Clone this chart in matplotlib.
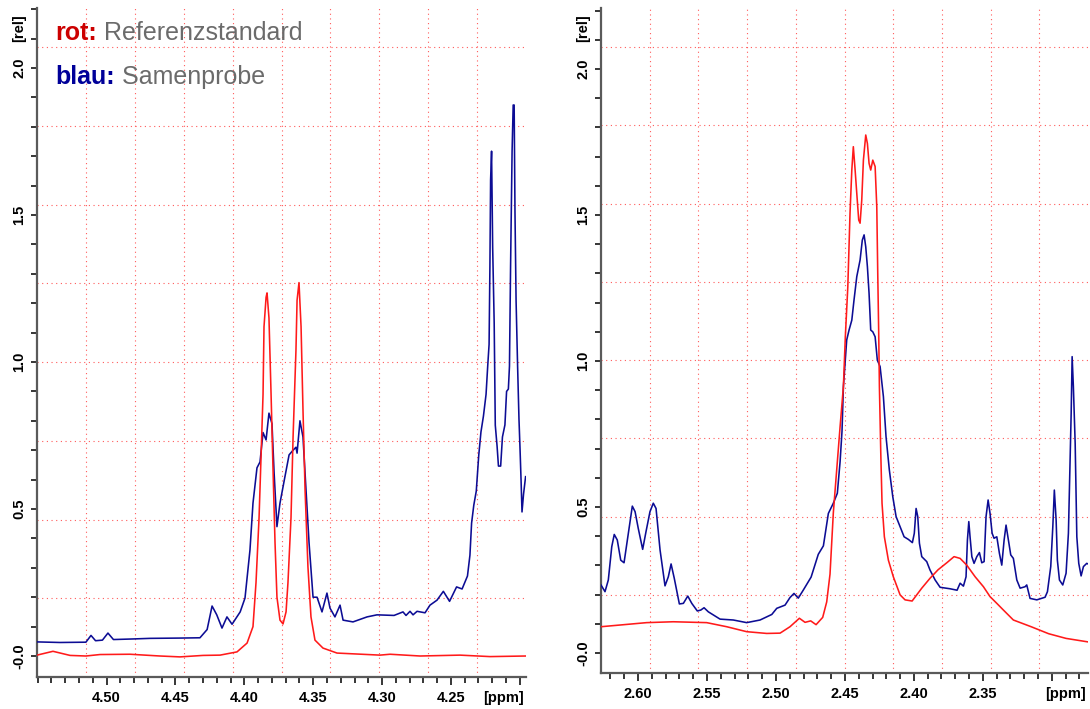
import matplotlib
matplotlib.use("Agg")
import matplotlib.pyplot as plt
from matplotlib.ticker import FixedLocator, FixedFormatter, MultipleLocator

# ---------------- data ----------------
# left panel (4.55 - 4.20 ppm)
left_sample_ppm = [4.5505, 4.5338, 4.5150, 4.5113, 4.5080, 4.5030, 4.4990, 4.4950, 4.4808, 4.4685,
                   4.4467, 4.4322, 4.4270, 4.4234, 4.4200, 4.4162, 4.4126, 4.4089, 4.4030, 4.3995,
                   4.3959, 4.3937, 4.3908, 4.3886, 4.3864, 4.3842, 4.3821, 4.3799, 4.3784, 4.3763,
                   4.3741, 4.3705, 4.3675, 4.3646, 4.3625, 4.3617, 4.3596, 4.3574, 4.3552, 4.3530,
                   4.3501, 4.3472, 4.3436, 4.3400, 4.3378, 4.3342, 4.3305, 4.3283, 4.3211, 4.3109,
                   4.3037, 4.2913, 4.2848, 4.2826, 4.2797, 4.2775, 4.2746, 4.2688, 4.2652, 4.2601,
                   4.2555, 4.2510, 4.2459, 4.2419, 4.2380, 4.2362, 4.2350, 4.2334, 4.2316, 4.2298,
                   4.2282, 4.2264, 4.2245, 4.2233, 4.2223, 4.2217, 4.2212, 4.2205, 4.2197, 4.2186,
                   4.2178, 4.2165, 4.2155, 4.2139, 4.2126, 4.2108, 4.2096, 4.2083, 4.2075, 4.2067,
                   4.2056, 4.2048, 4.2041, 4.2035, 4.2027, 4.2016, 4.2006, 4.1998, 4.1991, 4.1984,
                   4.1973, 4.1958]
left_sample_int = [0.048, 0.046, 0.047, 0.070, 0.052, 0.054, 0.078, 0.056, 0.058, 0.060,
                   0.061, 0.062, 0.090, 0.170, 0.140, 0.095, 0.133, 0.108, 0.150, 0.197,
                   0.360, 0.520, 0.640, 0.660, 0.760, 0.735, 0.826, 0.790, 0.626, 0.440,
                   0.520, 0.610, 0.684, 0.700, 0.710, 0.690, 0.800, 0.745, 0.565, 0.385,
                   0.200, 0.200, 0.150, 0.214, 0.163, 0.133, 0.173, 0.122, 0.116, 0.133,
                   0.140, 0.138, 0.150, 0.138, 0.152, 0.140, 0.152, 0.147, 0.173, 0.190,
                   0.220, 0.186, 0.235, 0.228, 0.272, 0.343, 0.452, 0.513, 0.561, 0.683,
                   0.762, 0.816, 0.890, 0.986, 1.060, 1.325, 1.619, 1.717, 1.390, 1.133,
                   0.785, 0.714, 0.646, 0.646, 0.745, 0.786, 0.900, 0.908, 0.986, 1.325,
                   1.717, 1.874, 1.874, 1.510, 1.208, 0.986, 0.806, 0.700, 0.600, 0.490,
                   0.550, 0.610]

left_ref_ppm = [4.5505, 4.5389, 4.5265, 4.5150, 4.5048, 4.4830, 4.4612, 4.4467, 4.4300, 4.4176,
                4.4053, 4.3980, 4.3937, 4.3915, 4.3893, 4.3879, 4.3864, 4.3857, 4.3842, 4.3835,
                4.3821, 4.3806, 4.3792, 4.3777, 4.3763, 4.3741, 4.3719, 4.3697, 4.3683, 4.3661,
                4.3646, 4.3625, 4.3617, 4.3603, 4.3588, 4.3574, 4.3559, 4.3538, 4.3516, 4.3487,
                4.3429, 4.3327, 4.3015, 4.2942, 4.2724, 4.2434, 4.2216, 4.1955]
left_ref_int = [0.003, 0.016, 0.002, 0.000, 0.005, 0.006, 0.000, -0.003, 0.002, 0.003,
                0.014, 0.044, 0.100, 0.250, 0.470, 0.670, 0.890, 1.120, 1.220, 1.235,
                1.150, 0.895, 0.643, 0.385, 0.200, 0.122, 0.109, 0.150, 0.250, 0.470,
                0.745, 1.040, 1.210, 1.270, 1.120, 0.837, 0.565, 0.303, 0.133, 0.054,
                0.027, 0.010, 0.003, 0.006, 0.000, 0.003, -0.002, 0.000]

# right panel (2.63 - 2.27 ppm)
right_sample_ppm = [2.6268, 2.6239, 2.6215, 2.6190, 2.6172, 2.6150, 2.6125, 2.6101, 2.6070, 2.6041,
                    2.6021, 2.5998, 2.5966, 2.5942, 2.5913, 2.5889, 2.5869, 2.5840, 2.5804, 2.5780,
                    2.5760, 2.5737, 2.5700, 2.5671, 2.5639, 2.5610, 2.5570, 2.5545, 2.5521, 2.5490,
                    2.5405, 2.5309, 2.5212, 2.5115, 2.5030, 2.4994, 2.4934, 2.4898, 2.4869, 2.4838,
                    2.4801, 2.4745, 2.4693, 2.4656, 2.4620, 2.4584, 2.4555, 2.4535, 2.4521, 2.4511,
                    2.4497, 2.4487, 2.4470, 2.4450, 2.4434, 2.4414, 2.4390, 2.4374, 2.4361, 2.4349,
                    2.4337, 2.4325, 2.4313, 2.4298, 2.4281, 2.4265, 2.4245, 2.4221, 2.4202, 2.4178,
                    2.4153, 2.4129, 2.4100, 2.4071, 2.4040, 2.4011, 2.3997, 2.3984, 2.3972, 2.3960,
                    2.3943, 2.3907, 2.3883, 2.3846, 2.3810, 2.3738, 2.3687, 2.3665, 2.3641, 2.3622,
                    2.3612, 2.3602, 2.3593, 2.3580, 2.3564, 2.3544, 2.3525, 2.3508, 2.3491, 2.3477,
                    2.3462, 2.3448, 2.3433, 2.3419, 2.3399, 2.3380, 2.3363, 2.3346, 2.3332, 2.3315,
                    2.3298, 2.3279, 2.3254, 2.3230, 2.3194, 2.3182, 2.3158, 2.3109, 2.3049, 2.3032,
                    2.3008, 2.2993, 2.2982, 2.2969, 2.2960, 2.2945, 2.2921, 2.2897, 2.2880, 2.2868,
                    2.2860, 2.2853, 2.2844, 2.2831, 2.2819, 2.2805, 2.2788, 2.2771, 2.2747, 2.2738]
right_sample_int = [0.233, 0.210, 0.250, 0.364, 0.406, 0.387, 0.318, 0.309, 0.410, 0.503,
                    0.484, 0.427, 0.355, 0.415, 0.484, 0.513, 0.495, 0.353, 0.230, 0.261,
                    0.305, 0.256, 0.168, 0.170, 0.195, 0.170, 0.144, 0.147, 0.155, 0.141,
                    0.116, 0.113, 0.104, 0.113, 0.132, 0.153, 0.164, 0.190, 0.204, 0.188,
                    0.216, 0.260, 0.338, 0.367, 0.478, 0.513, 0.547, 0.655, 0.760, 0.912,
                    1.003, 1.072, 1.106, 1.140, 1.209, 1.289, 1.346, 1.414, 1.432, 1.391,
                    1.323, 1.232, 1.106, 1.100, 1.083, 1.003, 0.981, 0.878, 0.741, 0.627,
                    0.535, 0.467, 0.432, 0.398, 0.389, 0.378, 0.410, 0.495, 0.467, 0.376,
                    0.330, 0.313, 0.284, 0.250, 0.225, 0.220, 0.215, 0.239, 0.229, 0.261,
                    0.387, 0.450, 0.398, 0.330, 0.307, 0.330, 0.344, 0.309, 0.313, 0.467,
                    0.524, 0.478, 0.410, 0.393, 0.398, 0.341, 0.301, 0.387, 0.438, 0.387,
                    0.336, 0.324, 0.250, 0.222, 0.227, 0.233, 0.187, 0.182, 0.191, 0.210,
                    0.296, 0.433, 0.558, 0.455, 0.318, 0.250, 0.233, 0.273, 0.410, 0.661,
                    0.821, 1.015, 0.912, 0.718, 0.398, 0.307, 0.264, 0.296, 0.307, 0.305]

right_ref_ppm = [2.6268, 2.5937, 2.5744, 2.5502, 2.5357, 2.5212, 2.5067, 2.4970, 2.4898, 2.4830,
                 2.4789, 2.4748, 2.4709, 2.4661, 2.4632, 2.4608, 2.4584, 2.4559, 2.4535, 2.4511,
                 2.4497, 2.4479, 2.4463, 2.4450, 2.4439, 2.4426, 2.4414, 2.4400, 2.4390, 2.4378,
                 2.4366, 2.4349, 2.4337, 2.4325, 2.4313, 2.4298, 2.4281, 2.4269, 2.4262, 2.4255,
                 2.4250, 2.4240, 2.4231, 2.4214, 2.4185, 2.4149, 2.4100, 2.4064, 2.4013, 2.3943,
                 2.3883, 2.3825, 2.3759, 2.3709, 2.3665, 2.3617, 2.3556, 2.3496, 2.3448, 2.3399,
                 2.3351, 2.3279, 2.3150, 2.3023, 2.2897, 2.2738]
right_ref_int = [0.090, 0.104, 0.107, 0.104, 0.090, 0.073, 0.067, 0.068, 0.090, 0.119,
                 0.105, 0.110, 0.097, 0.122, 0.175, 0.270, 0.480, 0.630, 0.775, 0.912,
                 1.083, 1.254, 1.506, 1.654, 1.734, 1.654, 1.574, 1.483, 1.472, 1.551,
                 1.688, 1.774, 1.745, 1.677, 1.654, 1.688, 1.666, 1.528, 1.300, 1.095,
                 0.912, 0.684, 0.513, 0.398, 0.318, 0.261, 0.199, 0.182, 0.178, 0.222,
                 0.256, 0.285, 0.310, 0.330, 0.324, 0.301, 0.261, 0.227, 0.193, 0.170,
                 0.147, 0.113, 0.090, 0.066, 0.050, 0.038]

left_xticks = [4.50, 4.45, 4.40, 4.35, 4.30, 4.25, 4.20]
left_xticklabels = ["4.50", "4.45", "4.40", "4.35", "4.30", "4.25", ""]
right_xticks = [2.60, 2.55, 2.50, 2.45, 2.40, 2.35, 2.30]
right_xticklabels = ["2.60", "2.55", "2.50", "2.45", "2.40", "2.35", ""]
yticks = [0.0, 0.5, 1.0, 1.5, 2.0]
yticklabels = ["-0.0", "0.5", "1.0", "1.5", "2.0"]

legend_ref = ("rot:", "Referenzstandard")
legend_sample = ("blau:", "Samenprobe")

# ---------------- style ----------------
FONT = "Liberation Sans"
plt.rcParams["font.family"] = [FONT, "DejaVu Sans"]
RED = "#ff1a1a"
BLUE = "#0c0c94"
GRID = "#ff5a5a"
SPINE = "#5a5a5a"
TICKFS = 10.5

fig = plt.figure(figsize=(10.9, 7.09), dpi=100)
axL = fig.add_axes([37 / 1090, 32 / 709, 489 / 1090, 669 / 709])
axR = fig.add_axes([601 / 1090, 36 / 709, 487 / 1090, 665 / 709])


def style_axes(ax, xlim, ylim, xt, xtl):
    ax.set_xlim(*xlim)
    ax.set_ylim(*ylim)
    for s in ("top", "right"):
        ax.spines[s].set_visible(False)
    for s in ("left", "bottom"):
        ax.spines[s].set_color(SPINE)
        ax.spines[s].set_linewidth(1.6)
    ax.xaxis.set_major_locator(FixedLocator(xt))
    ax.xaxis.set_major_formatter(FixedFormatter(xtl))
    ax.xaxis.set_minor_locator(MultipleLocator(0.01))
    ax.yaxis.set_major_locator(FixedLocator(yticks))
    ax.yaxis.set_major_formatter(FixedFormatter(yticklabels))
    ax.yaxis.set_minor_locator(MultipleLocator(0.1))
    ax.tick_params(axis="x", which="major", direction="out", length=6, width=1.1,
                   color="black", pad=4, labelsize=TICKFS)
    ax.tick_params(axis="x", which="minor", direction="out", length=4, width=1.1, color="black")
    ax.tick_params(axis="y", which="both", direction="out", length=4, width=1.1,
                   color="black", pad=3.7, labelsize=TICKFS)
    for lab in ax.get_xticklabels():
        lab.set_fontweight("bold")
    for lab in ax.get_yticklabels():
        lab.set_fontweight("bold")
        lab.set_rotation(90)
        lab.set_va("center")
    # grid: equal divisions of the frame, as in the spectrometer software
    for k in range(1, 10):
        ax.axvline(xlim[0] + (xlim[1] - xlim[0]) * k / 10, color=GRID, lw=0.8,
                   ls=(0, (1, 3.2)), zorder=0)
    for k in range(1, 9):
        ax.axhline(ylim[0] + (ylim[1] - ylim[0]) * k / 8.5, color=GRID, lw=0.8,
                   ls=(0, (1, 3.2)), zorder=0)
    ax.annotate("[ppm]", xy=(1, 0), xycoords="axes fraction", xytext=(-1.5, -10),
                textcoords="offset points", ha="right", va="top",
                fontsize=TICKFS, fontweight="bold")
    ax.annotate("[rel]", xy=(0, 0.97), xycoords="axes fraction", xytext=(-7.7, 0),
                textcoords="offset points", ha="right", va="center", rotation=90,
                fontsize=TICKFS, fontweight="bold")


style_axes(axL, (4.5505, 4.1955), (-0.0714, 2.204), left_xticks, left_xticklabels)
style_axes(axR, (2.6268, 2.2738), (-0.0685, 2.209), right_xticks, right_xticklabels)

axL.plot(left_sample_ppm, left_sample_int, color=BLUE, lw=1.15, zorder=3)
axL.plot(left_ref_ppm, left_ref_int, color=RED, lw=1.15, zorder=4)
axR.plot(right_sample_ppm, right_sample_int, color=BLUE, lw=1.15, zorder=3)
axR.plot(right_ref_ppm, right_ref_int, color=RED, lw=1.15, zorder=4)

# legend text (coloured key word + grey description)
LEGFS = 18
t1 = fig.text(55 / 1090, 1 - 40 / 709, legend_ref[0], color="#cc0000", fontweight="bold",
              fontsize=LEGFS, ha="left", va="baseline")
plt.annotate(" " + legend_ref[1], xy=(1, 0), xycoords=t1, xytext=(0, 0),
             textcoords="offset points", ha="left", va="bottom", color="#6b6b6b",
             fontsize=LEGFS, annotation_clip=False)
t2 = fig.text(55 / 1090, 1 - 84 / 709, legend_sample[0], color="#000099", fontweight="bold",
              fontsize=LEGFS, ha="left", va="baseline")
plt.annotate(" " + legend_sample[1], xy=(1, 0), xycoords=t2, xytext=(0, 0),
             textcoords="offset points", ha="left", va="bottom", color="#6b6b6b",
             fontsize=LEGFS, annotation_clip=False)

fig.savefig("out.png", dpi=100)
